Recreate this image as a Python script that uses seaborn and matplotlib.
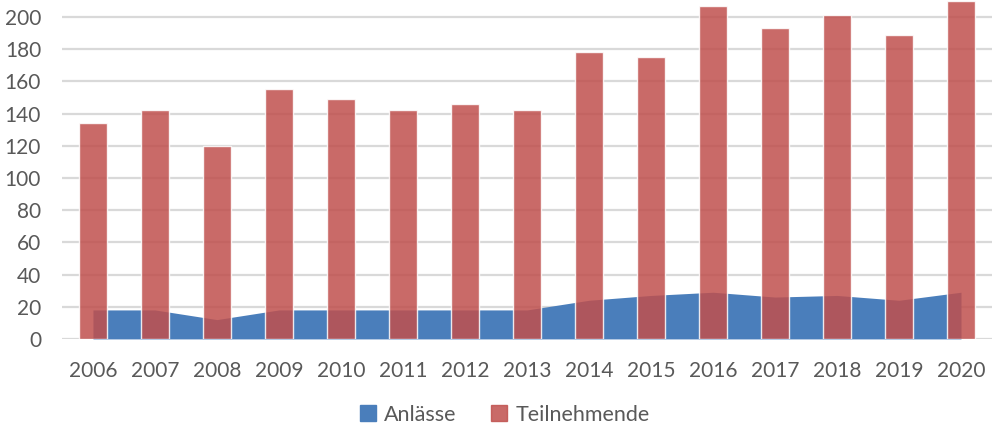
import matplotlib
matplotlib.use("Agg")
import matplotlib.pyplot as plt
from matplotlib.lines import Line2D
import seaborn as sns
import pandas as pd

years = [str(y) for y in range(2006, 2021)]
teilnehmende = [134, 142, 120, 155, 149, 142, 146, 142, 178, 175, 207, 193, 201, 189, 210]
anlaesse = [18, 18, 12, 18, 18, 18, 18, 18, 24, 27, 29, 26, 27, 24, 29]

RED = "#C0504D"
BLUE = "#4A7EBB"
TEXT = "#595959"
GRID = "#D9D9D9"

sns.set_style("white")
plt.rcParams["font.family"] = ["Lato", "DejaVu Sans"]

df = pd.DataFrame({"Jahr": years, "Teilnehmende": teilnehmende, "Anlässe": anlaesse})

fig = plt.figure(figsize=(9.99, 4.29), dpi=100)
ax = fig.add_axes([0.062, 0.21, 0.931, 0.788])

# Anlässe as area behind the bars
ax.fill_between(range(len(years)), df["Anlässe"], 0, color=BLUE, lw=0, zorder=1)

sns.barplot(data=df, x="Jahr", y="Teilnehmende", color=RED, alpha=0.85,
            width=0.44, saturation=1, ax=ax, zorder=2)

ax.set_ylim(0, 210)
ax.set_xlim(-0.5, len(years) - 0.5)
ax.set_yticks(range(0, 201, 20))
ax.set_xlabel("")
ax.set_ylabel("")
ax.yaxis.grid(True, color=GRID, lw=1.6)
ax.set_axisbelow(True)
for s in ax.spines.values():
    s.set_visible(False)
ax.tick_params(axis="both", length=0, labelsize=15, labelcolor=TEXT)
ax.tick_params(axis="y", pad=15)
ax.tick_params(axis="x", pad=16)

handles = [
    Line2D([], [], marker="s", ls="", color=BLUE, markersize=11),
    Line2D([], [], marker="s", ls="", color=RED, alpha=0.85, markersize=11),
]
fig.legend(handles, ["Anlässe", "Teilnehmende"], loc="lower center",
           bbox_to_anchor=(0.505, 0.005), ncol=2, frameon=False,
           borderaxespad=0, borderpad=0.1,
           fontsize=15.5, labelcolor=TEXT, handlelength=0.8,
           handletextpad=0.35, columnspacing=1.6)

fig.savefig("out.png", dpi=100)
